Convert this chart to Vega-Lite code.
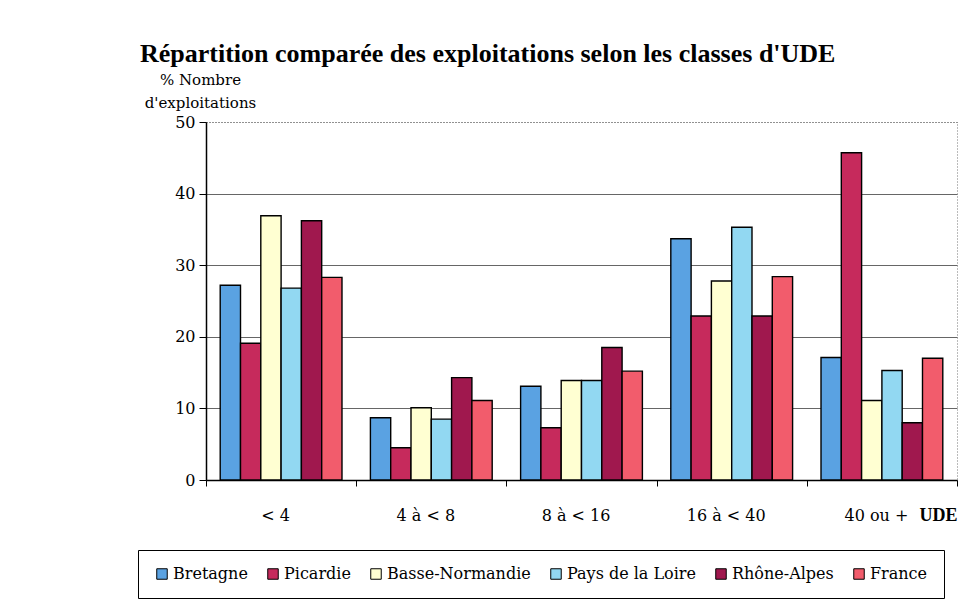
{
  "$schema": "https://vega.github.io/schema/vega-lite/v6.json",
  "width": 751,
  "height": 358,
  "autosize": {"type": "none"},
  "padding": {"left": 206, "top": 122, "right": 5, "bottom": 124},
  "background": "white",
  "title": {
    "text": "Répartition comparée des exploitations selon les classes d'UDE",
    "anchor": "start",
    "frame": "group",
    "dx": -66,
    "dy": -5,
    "font": "Liberation Serif",
    "fontSize": 26,
    "fontWeight": "bold",
    "color": "black",
    "offset": 0
  },
  "data": {
    "values": [
      {"classe": "< 4", "region": "Bretagne", "pct": 27.2},
      {"classe": "< 4", "region": "Picardie", "pct": 19.1},
      {"classe": "< 4", "region": "Basse-Normandie", "pct": 36.9},
      {"classe": "< 4", "region": "Pays de la Loire", "pct": 26.8},
      {"classe": "< 4", "region": "Rhône-Alpes", "pct": 36.2},
      {"classe": "< 4", "region": "France", "pct": 28.3},
      {"classe": "4 à < 8", "region": "Bretagne", "pct": 8.7},
      {"classe": "4 à < 8", "region": "Picardie", "pct": 4.5},
      {"classe": "4 à < 8", "region": "Basse-Normandie", "pct": 10.1},
      {"classe": "4 à < 8", "region": "Pays de la Loire", "pct": 8.5},
      {"classe": "4 à < 8", "region": "Rhône-Alpes", "pct": 14.3},
      {"classe": "4 à < 8", "region": "France", "pct": 11.1},
      {"classe": "8 à < 16", "region": "Bretagne", "pct": 13.1},
      {"classe": "8 à < 16", "region": "Picardie", "pct": 7.3},
      {"classe": "8 à < 16", "region": "Basse-Normandie", "pct": 13.9},
      {"classe": "8 à < 16", "region": "Pays de la Loire", "pct": 13.9},
      {"classe": "8 à < 16", "region": "Rhône-Alpes", "pct": 18.5},
      {"classe": "8 à < 16", "region": "France", "pct": 15.2},
      {"classe": "16 à < 40", "region": "Bretagne", "pct": 33.7},
      {"classe": "16 à < 40", "region": "Picardie", "pct": 22.9},
      {"classe": "16 à < 40", "region": "Basse-Normandie", "pct": 27.8},
      {"classe": "16 à < 40", "region": "Pays de la Loire", "pct": 35.3},
      {"classe": "16 à < 40", "region": "Rhône-Alpes", "pct": 22.9},
      {"classe": "16 à < 40", "region": "France", "pct": 28.4},
      {"classe": "40 ou +", "region": "Bretagne", "pct": 17.1},
      {"classe": "40 ou +", "region": "Picardie", "pct": 45.7},
      {"classe": "40 ou +", "region": "Basse-Normandie", "pct": 11.1},
      {"classe": "40 ou +", "region": "Pays de la Loire", "pct": 15.3},
      {"classe": "40 ou +", "region": "Rhône-Alpes", "pct": 8.0},
      {"classe": "40 ou +", "region": "France", "pct": 17.0}
    ]
  },
  "mark": {"type": "bar", "stroke": "black", "strokeWidth": 1.4},
  "encoding": {
    "x": {
      "field": "classe",
      "type": "nominal",
      "sort": ["< 4", "4 à < 8", "8 à < 16", "16 à < 40", "40 ou +"],
      "scale": {"paddingInner": 0, "paddingOuter": 0},
      "axis": {
        "title": "UDE",
        "titleFont": "Liberation Serif",
        "titleFontSize": 18,
        "titleFontWeight": "bold",
        "titleColor": "black",
        "titleX": 751,
        "titleAlign": "right",
        "titleAnchor": null,
        "titleY": 26,
        "titleBaseline": "top",
        "labelAngle": 0,
        "labelFont": "DejaVu Serif",
        "labelFontSize": 16,
        "labelColor": "black",
        "labelPadding": 21,
        "labelOffset": -6,
        "tickBand": "extent",
        "tickSize": 6,
        "tickColor": "black",
        "domainColor": "black",
        "domainWidth": 1.5,
        "grid": false
      }
    },
    "xOffset": {
      "field": "region",
      "sort": ["Bretagne", "Picardie", "Basse-Normandie", "Pays de la Loire", "Rhône-Alpes", "France"],
      "scale": {"paddingInner": 0, "paddingOuter": 0.7}
    },
    "y": {
      "field": "pct",
      "type": "quantitative",
      "scale": {"domain": [0, 50], "nice": false},
      "axis": {
        "values": [0, 10, 20, 30, 40, 50],
        "title": ["% Nombre", "d'exploitations"],
        "titleFont": "DejaVu Serif",
        "titleFontSize": 15,
        "titleFontWeight": "normal",
        "titleColor": "black",
        "titleAngle": 0,
        "titleAlign": "center",
        "titleAnchor": null,
        "titleX": -6,
        "titleY": -35,
        "titleBaseline": "bottom",
        "titleLineHeight": 23,
        "labelFont": "DejaVu Serif",
        "labelFontSize": 16,
        "labelColor": "black",
        "labelPadding": 4,
        "tickSize": 7,
        "tickColor": "black",
        "domainColor": "black",
        "domainWidth": 1.5,
        "grid": true,
        "gridColor": "#666666",
        "gridWidth": 1,
        "gridDash": {"condition": {"test": "datum.value === 50", "value": [1, 2]}, "value": []}
      }
    },
    "color": {
      "field": "region",
      "type": "nominal",
      "scale": {
        "domain": ["Bretagne", "Picardie", "Basse-Normandie", "Pays de la Loire", "Rhône-Alpes", "France"],
        "range": ["#5aa2e2", "#c62a5c", "#ffffd2", "#92d8f2", "#a0184e", "#f25c6c"]
      },
      "legend": {
        "orient": "none",
        "legendX": -68,
        "legendY": 428,
        "direction": "horizontal",
        "title": null,
        "strokeColor": "black",
        "fillColor": "white",
        "padding": 16,
        "symbolType": "square",
        "symbolSize": 110,
        "symbolStrokeColor": "black",
        "symbolStrokeWidth": 1,
        "symbolOpacity": 1,
        "labelFont": "DejaVu Serif",
        "labelFontSize": 16,
        "labelColor": "black",
        "labelOffset": 3,
        "columnPadding": 17
      }
    }
  },
  "config": {
    "view": {"stroke": "#777777", "strokeDash": [1, 2]}
  }
}
